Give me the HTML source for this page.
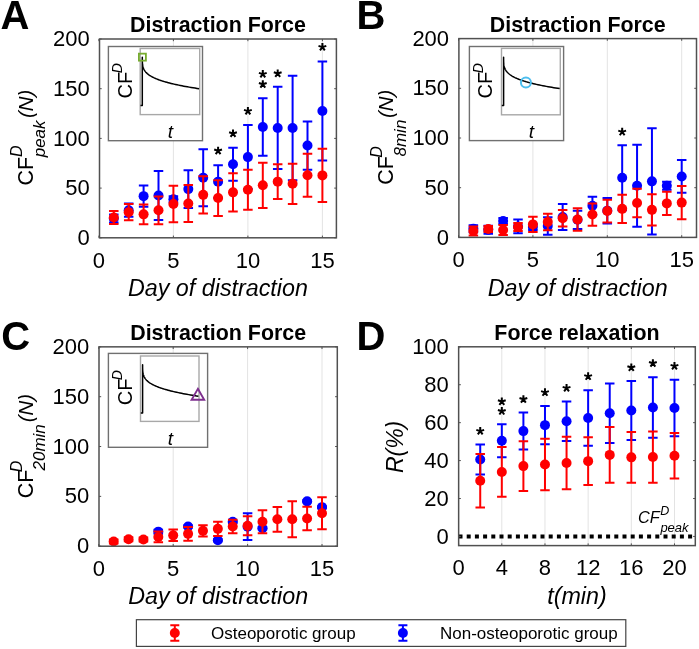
<!DOCTYPE html><html><head><meta charset="utf-8"><style>html,body{margin:0;padding:0;background:#fff;overflow:hidden}svg{display:block;will-change:transform}</style></head><body><svg width="699" height="649" viewBox="0 0 699 649" font-family='"Liberation Sans", sans-serif' fill="#000">
<rect width="699" height="649" fill="#fff"/>
<rect x="99.50" y="39.00" width="236.90" height="198.80" fill="#fff"/>
<line x1="173.40" y1="39.00" x2="173.40" y2="237.80" stroke="#e3e3e3" stroke-width="1"/>
<line x1="247.90" y1="39.00" x2="247.90" y2="237.80" stroke="#e3e3e3" stroke-width="1"/>
<line x1="322.40" y1="39.00" x2="322.40" y2="237.80" stroke="#e3e3e3" stroke-width="1"/>
<path d="M113.80 214.44V222.39M109.05 214.44H118.55M109.05 222.39H118.55" stroke="#0000ff" stroke-width="2.0" fill="none"/>
<path d="M128.70 203.61V216.73M123.95 203.61H133.45M123.95 216.73H133.45" stroke="#0000ff" stroke-width="2.0" fill="none"/>
<path d="M143.60 185.62V206.69M138.85 185.62H148.35M138.85 206.69H148.35" stroke="#0000ff" stroke-width="2.0" fill="none"/>
<path d="M158.50 171.00V219.91M153.75 171.00H163.25M153.75 219.91H163.25" stroke="#0000ff" stroke-width="2.0" fill="none"/>
<path d="M173.40 196.35V202.31M168.65 196.35H178.15M168.65 202.31H178.15" stroke="#0000ff" stroke-width="2.0" fill="none"/>
<path d="M188.30 170.21V207.98M183.55 170.21H193.05M183.55 207.98H193.05" stroke="#0000ff" stroke-width="2.0" fill="none"/>
<path d="M203.20 149.14V206.19M198.45 149.14H207.95M198.45 206.19H207.95" stroke="#0000ff" stroke-width="2.0" fill="none"/>
<path d="M218.10 165.24V198.04M213.35 165.24H222.85M213.35 198.04H222.85" stroke="#0000ff" stroke-width="2.0" fill="none"/>
<path d="M233.00 147.84V180.65M228.25 147.84H237.75M228.25 180.65H237.75" stroke="#0000ff" stroke-width="2.0" fill="none"/>
<path d="M247.90 125.08V189.09M243.15 125.08H252.65M243.15 189.09H252.65" stroke="#0000ff" stroke-width="2.0" fill="none"/>
<path d="M262.80 98.14V155.80M258.05 98.14H267.55M258.05 155.80H267.55" stroke="#0000ff" stroke-width="2.0" fill="none"/>
<path d="M277.70 86.81V169.11M272.95 86.81H282.45M272.95 169.11H282.45" stroke="#0000ff" stroke-width="2.0" fill="none"/>
<path d="M292.60 75.78V180.15M287.85 75.78H297.35M287.85 180.15H297.35" stroke="#0000ff" stroke-width="2.0" fill="none"/>
<path d="M307.50 121.40V169.71M302.75 121.40H312.25M302.75 169.71H312.25" stroke="#0000ff" stroke-width="2.0" fill="none"/>
<path d="M322.40 61.46V160.47M317.65 61.46H327.15M317.65 160.47H327.15" stroke="#0000ff" stroke-width="2.0" fill="none"/>
<circle cx="113.80" cy="218.42" r="5.0" fill="#0000ff"/>
<circle cx="128.70" cy="210.17" r="5.0" fill="#0000ff"/>
<circle cx="143.60" cy="196.15" r="5.0" fill="#0000ff"/>
<circle cx="158.50" cy="195.46" r="5.0" fill="#0000ff"/>
<circle cx="173.40" cy="199.33" r="5.0" fill="#0000ff"/>
<circle cx="188.30" cy="189.09" r="5.0" fill="#0000ff"/>
<circle cx="203.20" cy="177.66" r="5.0" fill="#0000ff"/>
<circle cx="218.10" cy="181.64" r="5.0" fill="#0000ff"/>
<circle cx="233.00" cy="164.24" r="5.0" fill="#0000ff"/>
<circle cx="247.90" cy="157.09" r="5.0" fill="#0000ff"/>
<circle cx="262.80" cy="126.97" r="5.0" fill="#0000ff"/>
<circle cx="277.70" cy="127.96" r="5.0" fill="#0000ff"/>
<circle cx="292.60" cy="127.96" r="5.0" fill="#0000ff"/>
<circle cx="307.50" cy="145.56" r="5.0" fill="#0000ff"/>
<circle cx="322.40" cy="110.97" r="5.0" fill="#0000ff"/>
<path d="M113.80 210.96V223.88M109.05 210.96H118.55M109.05 223.88H118.55" stroke="#ff0000" stroke-width="2.0" fill="none"/>
<path d="M128.70 204.00V220.31M123.95 204.00H133.45M123.95 220.31H133.45" stroke="#ff0000" stroke-width="2.0" fill="none"/>
<path d="M143.60 204.50V224.18M138.85 204.50H148.35M138.85 224.18H148.35" stroke="#ff0000" stroke-width="2.0" fill="none"/>
<path d="M158.50 196.40V224.23M153.75 196.40H163.25M153.75 224.23H163.25" stroke="#ff0000" stroke-width="2.0" fill="none"/>
<path d="M173.40 185.81V222.19M168.65 185.81H178.15M168.65 222.19H178.15" stroke="#ff0000" stroke-width="2.0" fill="none"/>
<path d="M188.30 185.12V222.09M183.55 185.12H193.05M183.55 222.09H193.05" stroke="#ff0000" stroke-width="2.0" fill="none"/>
<path d="M203.20 176.17V213.55M198.45 176.17H207.95M198.45 213.55H207.95" stroke="#ff0000" stroke-width="2.0" fill="none"/>
<path d="M218.10 180.15V215.93M213.35 180.15H222.85M213.35 215.93H222.85" stroke="#ff0000" stroke-width="2.0" fill="none"/>
<path d="M233.00 173.19V211.56M228.25 173.19H237.75M228.25 211.56H237.75" stroke="#ff0000" stroke-width="2.0" fill="none"/>
<path d="M247.90 169.71V209.87M243.15 169.71H252.65M243.15 209.87H252.65" stroke="#ff0000" stroke-width="2.0" fill="none"/>
<path d="M262.80 162.65V207.98M258.05 162.65H267.55M258.05 207.98H267.55" stroke="#ff0000" stroke-width="2.0" fill="none"/>
<path d="M277.70 164.24V199.03M272.95 164.24H282.45M272.95 199.03H282.45" stroke="#ff0000" stroke-width="2.0" fill="none"/>
<path d="M292.60 163.75V203.90M287.85 163.75H297.35M287.85 203.90H297.35" stroke="#ff0000" stroke-width="2.0" fill="none"/>
<path d="M307.50 153.71V196.65M302.75 153.71H312.25M302.75 196.65H312.25" stroke="#ff0000" stroke-width="2.0" fill="none"/>
<path d="M322.40 148.74V202.02M317.65 148.74H327.15M317.65 202.02H327.15" stroke="#ff0000" stroke-width="2.0" fill="none"/>
<circle cx="113.80" cy="217.42" r="5.0" fill="#ff0000"/>
<circle cx="128.70" cy="212.15" r="5.0" fill="#ff0000"/>
<circle cx="143.60" cy="214.34" r="5.0" fill="#ff0000"/>
<circle cx="158.50" cy="210.32" r="5.0" fill="#ff0000"/>
<circle cx="173.40" cy="204.00" r="5.0" fill="#ff0000"/>
<circle cx="188.30" cy="203.61" r="5.0" fill="#ff0000"/>
<circle cx="203.20" cy="194.86" r="5.0" fill="#ff0000"/>
<circle cx="218.10" cy="198.04" r="5.0" fill="#ff0000"/>
<circle cx="233.00" cy="192.37" r="5.0" fill="#ff0000"/>
<circle cx="247.90" cy="189.79" r="5.0" fill="#ff0000"/>
<circle cx="262.80" cy="185.32" r="5.0" fill="#ff0000"/>
<circle cx="277.70" cy="181.64" r="5.0" fill="#ff0000"/>
<circle cx="292.60" cy="183.83" r="5.0" fill="#ff0000"/>
<circle cx="307.50" cy="175.18" r="5.0" fill="#ff0000"/>
<circle cx="322.40" cy="175.38" r="5.0" fill="#ff0000"/>
<rect x="458.90" y="38.60" width="237.60" height="198.80" fill="#fff"/>
<line x1="532.90" y1="38.60" x2="532.90" y2="237.40" stroke="#e3e3e3" stroke-width="1"/>
<line x1="607.30" y1="38.60" x2="607.30" y2="237.40" stroke="#e3e3e3" stroke-width="1"/>
<line x1="681.70" y1="38.60" x2="681.70" y2="237.40" stroke="#e3e3e3" stroke-width="1"/>
<path d="M473.38 225.17V232.13M468.63 225.17H478.13M468.63 232.13H478.13" stroke="#0000ff" stroke-width="2.0" fill="none"/>
<path d="M488.26 225.87V233.82M483.51 225.87H493.01M483.51 233.82H493.01" stroke="#0000ff" stroke-width="2.0" fill="none"/>
<path d="M503.14 218.12V224.08M498.39 218.12H507.89M498.39 224.08H507.89" stroke="#0000ff" stroke-width="2.0" fill="none"/>
<path d="M518.02 219.61V233.32M513.27 219.61H522.77M513.27 233.32H522.77" stroke="#0000ff" stroke-width="2.0" fill="none"/>
<path d="M532.90 224.08V230.04M528.15 224.08H537.65M528.15 230.04H537.65" stroke="#0000ff" stroke-width="2.0" fill="none"/>
<path d="M547.78 217.32V234.82M543.03 217.32H552.53M543.03 234.82H552.53" stroke="#0000ff" stroke-width="2.0" fill="none"/>
<path d="M562.66 203.90V229.94M557.91 203.90H567.41M557.91 229.94H567.41" stroke="#0000ff" stroke-width="2.0" fill="none"/>
<path d="M577.54 210.66V228.95M572.79 210.66H582.29M572.79 228.95H582.29" stroke="#0000ff" stroke-width="2.0" fill="none"/>
<path d="M592.42 196.65V214.94M587.67 196.65H597.17M587.67 214.94H597.17" stroke="#0000ff" stroke-width="2.0" fill="none"/>
<path d="M607.30 197.94V223.38M602.55 197.94H612.05M602.55 223.38H612.05" stroke="#0000ff" stroke-width="2.0" fill="none"/>
<path d="M622.18 145.36V210.16M617.43 145.36H626.93M617.43 210.16H626.93" stroke="#0000ff" stroke-width="2.0" fill="none"/>
<path d="M637.06 144.76V226.66M632.31 144.76H641.81M632.31 226.66H641.81" stroke="#0000ff" stroke-width="2.0" fill="none"/>
<path d="M651.94 128.16V234.52M647.19 128.16H656.69M647.19 234.52H656.69" stroke="#0000ff" stroke-width="2.0" fill="none"/>
<path d="M666.82 181.74V189.69M662.07 181.74H671.57M662.07 189.69H671.57" stroke="#0000ff" stroke-width="2.0" fill="none"/>
<path d="M681.70 160.07V192.87M676.95 160.07H686.45M676.95 192.87H686.45" stroke="#0000ff" stroke-width="2.0" fill="none"/>
<circle cx="473.38" cy="228.65" r="5.0" fill="#0000ff"/>
<circle cx="488.26" cy="229.85" r="5.0" fill="#0000ff"/>
<circle cx="503.14" cy="221.10" r="5.0" fill="#0000ff"/>
<circle cx="518.02" cy="226.47" r="5.0" fill="#0000ff"/>
<circle cx="532.90" cy="227.06" r="5.0" fill="#0000ff"/>
<circle cx="547.78" cy="226.07" r="5.0" fill="#0000ff"/>
<circle cx="562.66" cy="216.92" r="5.0" fill="#0000ff"/>
<circle cx="577.54" cy="219.81" r="5.0" fill="#0000ff"/>
<circle cx="592.42" cy="205.79" r="5.0" fill="#0000ff"/>
<circle cx="607.30" cy="210.66" r="5.0" fill="#0000ff"/>
<circle cx="622.18" cy="177.76" r="5.0" fill="#0000ff"/>
<circle cx="637.06" cy="185.71" r="5.0" fill="#0000ff"/>
<circle cx="651.94" cy="181.34" r="5.0" fill="#0000ff"/>
<circle cx="666.82" cy="185.71" r="5.0" fill="#0000ff"/>
<circle cx="681.70" cy="176.47" r="5.0" fill="#0000ff"/>
<path d="M473.38 226.47V235.41M468.63 226.47H478.13M468.63 235.41H478.13" stroke="#ff0000" stroke-width="2.0" fill="none"/>
<path d="M488.26 226.07V232.03M483.51 226.07H493.01M483.51 232.03H493.01" stroke="#ff0000" stroke-width="2.0" fill="none"/>
<path d="M503.14 224.97V234.91M498.39 224.97H507.89M498.39 234.91H507.89" stroke="#ff0000" stroke-width="2.0" fill="none"/>
<path d="M518.02 223.09V231.04M513.27 223.09H522.77M513.27 231.04H522.77" stroke="#ff0000" stroke-width="2.0" fill="none"/>
<path d="M532.90 216.82V231.93M528.15 216.82H537.65M528.15 231.93H537.65" stroke="#ff0000" stroke-width="2.0" fill="none"/>
<path d="M547.78 213.64V230.14M543.03 213.64H552.53M543.03 230.14H552.53" stroke="#ff0000" stroke-width="2.0" fill="none"/>
<path d="M562.66 209.97V226.47M557.91 209.97H567.41M557.91 226.47H567.41" stroke="#ff0000" stroke-width="2.0" fill="none"/>
<path d="M577.54 208.33V230.69M572.79 208.33H582.29M572.79 230.69H582.29" stroke="#ff0000" stroke-width="2.0" fill="none"/>
<path d="M592.42 203.41V225.67M587.67 203.41H597.17M587.67 225.67H597.17" stroke="#ff0000" stroke-width="2.0" fill="none"/>
<path d="M607.30 199.63V222.49M602.55 199.63H612.05M602.55 222.49H612.05" stroke="#ff0000" stroke-width="2.0" fill="none"/>
<path d="M622.18 194.86V222.89M617.43 194.86H626.93M617.43 222.89H626.93" stroke="#ff0000" stroke-width="2.0" fill="none"/>
<path d="M637.06 188.69V217.32M632.31 188.69H641.81M632.31 217.32H641.81" stroke="#ff0000" stroke-width="2.0" fill="none"/>
<path d="M651.94 194.16V225.57M647.19 194.16H656.69M647.19 225.57H656.69" stroke="#ff0000" stroke-width="2.0" fill="none"/>
<path d="M666.82 191.87V214.94M662.07 191.87H671.57M662.07 214.94H671.57" stroke="#ff0000" stroke-width="2.0" fill="none"/>
<path d="M681.70 185.91V219.31M676.95 185.91H686.45M676.95 219.31H686.45" stroke="#ff0000" stroke-width="2.0" fill="none"/>
<circle cx="473.38" cy="230.94" r="5.0" fill="#ff0000"/>
<circle cx="488.26" cy="229.05" r="5.0" fill="#ff0000"/>
<circle cx="503.14" cy="229.94" r="5.0" fill="#ff0000"/>
<circle cx="518.02" cy="227.06" r="5.0" fill="#ff0000"/>
<circle cx="532.90" cy="224.38" r="5.0" fill="#ff0000"/>
<circle cx="547.78" cy="221.89" r="5.0" fill="#ff0000"/>
<circle cx="562.66" cy="218.22" r="5.0" fill="#ff0000"/>
<circle cx="577.54" cy="219.51" r="5.0" fill="#ff0000"/>
<circle cx="592.42" cy="214.54" r="5.0" fill="#ff0000"/>
<circle cx="607.30" cy="211.06" r="5.0" fill="#ff0000"/>
<circle cx="622.18" cy="208.87" r="5.0" fill="#ff0000"/>
<circle cx="637.06" cy="203.01" r="5.0" fill="#ff0000"/>
<circle cx="651.94" cy="209.87" r="5.0" fill="#ff0000"/>
<circle cx="666.82" cy="203.41" r="5.0" fill="#ff0000"/>
<circle cx="681.70" cy="202.61" r="5.0" fill="#ff0000"/>
<rect x="99.00" y="346.85" width="238.30" height="199.35" fill="#fff"/>
<line x1="173.20" y1="346.85" x2="173.20" y2="546.20" stroke="#e3e3e3" stroke-width="1"/>
<line x1="247.60" y1="346.85" x2="247.60" y2="546.20" stroke="#e3e3e3" stroke-width="1"/>
<line x1="322.00" y1="346.85" x2="322.00" y2="546.20" stroke="#e3e3e3" stroke-width="1"/>
<path d="M158.32 529.65V533.64M153.57 529.65H163.07M153.57 533.64H163.07" stroke="#0000ff" stroke-width="2.0" fill="none"/>
<path d="M188.08 525.47V527.46M183.33 525.47H192.83M183.33 527.46H192.83" stroke="#0000ff" stroke-width="2.0" fill="none"/>
<path d="M217.84 539.22V541.22M213.09 539.22H222.59M213.09 541.22H222.59" stroke="#0000ff" stroke-width="2.0" fill="none"/>
<path d="M232.72 520.68V522.68M227.97 520.68H237.47M227.97 522.68H237.47" stroke="#0000ff" stroke-width="2.0" fill="none"/>
<path d="M247.60 513.31V540.02M242.85 513.31H252.35M242.85 540.02H252.35" stroke="#0000ff" stroke-width="2.0" fill="none"/>
<path d="M262.48 527.26V529.26M257.73 527.26H267.23M257.73 529.26H267.23" stroke="#0000ff" stroke-width="2.0" fill="none"/>
<path d="M307.12 500.35V502.34M302.37 500.35H311.87M302.37 502.34H311.87" stroke="#0000ff" stroke-width="2.0" fill="none"/>
<path d="M322.00 506.13V508.12M317.25 506.13H326.75M317.25 508.12H326.75" stroke="#0000ff" stroke-width="2.0" fill="none"/>
<circle cx="158.32" cy="531.65" r="5.0" fill="#0000ff"/>
<circle cx="188.08" cy="526.46" r="5.0" fill="#0000ff"/>
<circle cx="217.84" cy="540.22" r="5.0" fill="#0000ff"/>
<circle cx="232.72" cy="521.68" r="5.0" fill="#0000ff"/>
<circle cx="247.60" cy="526.66" r="5.0" fill="#0000ff"/>
<circle cx="262.48" cy="528.26" r="5.0" fill="#0000ff"/>
<circle cx="307.12" cy="501.35" r="5.0" fill="#0000ff"/>
<circle cx="322.00" cy="507.13" r="5.0" fill="#0000ff"/>
<path d="M113.68 539.42V543.41M108.93 539.42H118.43M108.93 543.41H118.43" stroke="#ff0000" stroke-width="2.0" fill="none"/>
<path d="M128.56 537.23V541.22M123.81 537.23H133.31M123.81 541.22H133.31" stroke="#ff0000" stroke-width="2.0" fill="none"/>
<path d="M143.44 537.43V541.42M138.69 537.43H148.19M138.69 541.42H148.19" stroke="#ff0000" stroke-width="2.0" fill="none"/>
<path d="M158.32 531.55V542.31M153.57 531.55H163.07M153.57 542.31H163.07" stroke="#ff0000" stroke-width="2.0" fill="none"/>
<path d="M173.20 529.55V541.12M168.45 529.55H177.95M168.45 541.12H177.95" stroke="#ff0000" stroke-width="2.0" fill="none"/>
<path d="M188.08 526.96V540.72M183.33 526.96H192.83M183.33 540.72H192.83" stroke="#ff0000" stroke-width="2.0" fill="none"/>
<path d="M202.96 525.27V536.43M198.21 525.27H207.71M198.21 536.43H207.71" stroke="#ff0000" stroke-width="2.0" fill="none"/>
<path d="M217.84 521.68V536.03M213.09 521.68H222.59M213.09 536.03H222.59" stroke="#ff0000" stroke-width="2.0" fill="none"/>
<path d="M232.72 519.69V533.24M227.97 519.69H237.47M227.97 533.24H237.47" stroke="#ff0000" stroke-width="2.0" fill="none"/>
<path d="M247.60 516.30V535.24M242.85 516.30H252.35M242.85 535.24H252.35" stroke="#ff0000" stroke-width="2.0" fill="none"/>
<path d="M262.48 510.32V533.24M257.73 510.32H267.23M257.73 533.24H267.23" stroke="#ff0000" stroke-width="2.0" fill="none"/>
<path d="M277.36 506.93V531.65M272.61 506.93H282.11M272.61 531.65H282.11" stroke="#ff0000" stroke-width="2.0" fill="none"/>
<path d="M292.24 501.25V537.13M287.49 501.25H296.99M287.49 537.13H296.99" stroke="#ff0000" stroke-width="2.0" fill="none"/>
<path d="M307.12 506.63V530.35M302.37 506.63H311.87M302.37 530.35H311.87" stroke="#ff0000" stroke-width="2.0" fill="none"/>
<path d="M322.00 497.36V529.26M317.25 497.36H326.75M317.25 529.26H326.75" stroke="#ff0000" stroke-width="2.0" fill="none"/>
<circle cx="113.68" cy="541.42" r="5.0" fill="#ff0000"/>
<circle cx="128.56" cy="539.22" r="5.0" fill="#ff0000"/>
<circle cx="143.44" cy="539.42" r="5.0" fill="#ff0000"/>
<circle cx="158.32" cy="536.93" r="5.0" fill="#ff0000"/>
<circle cx="173.20" cy="535.34" r="5.0" fill="#ff0000"/>
<circle cx="188.08" cy="533.84" r="5.0" fill="#ff0000"/>
<circle cx="202.96" cy="530.85" r="5.0" fill="#ff0000"/>
<circle cx="217.84" cy="528.86" r="5.0" fill="#ff0000"/>
<circle cx="232.72" cy="526.46" r="5.0" fill="#ff0000"/>
<circle cx="247.60" cy="525.77" r="5.0" fill="#ff0000"/>
<circle cx="262.48" cy="521.78" r="5.0" fill="#ff0000"/>
<circle cx="277.36" cy="519.29" r="5.0" fill="#ff0000"/>
<circle cx="292.24" cy="519.19" r="5.0" fill="#ff0000"/>
<circle cx="307.12" cy="518.49" r="5.0" fill="#ff0000"/>
<circle cx="322.00" cy="513.31" r="5.0" fill="#ff0000"/>
<rect x="458.65" y="346.80" width="236.65" height="198.80" fill="#fff"/>
<line x1="501.81" y1="346.80" x2="501.81" y2="545.60" stroke="#e3e3e3" stroke-width="1"/>
<line x1="544.98" y1="346.80" x2="544.98" y2="545.60" stroke="#e3e3e3" stroke-width="1"/>
<line x1="588.14" y1="346.80" x2="588.14" y2="545.60" stroke="#e3e3e3" stroke-width="1"/>
<line x1="631.31" y1="346.80" x2="631.31" y2="545.60" stroke="#e3e3e3" stroke-width="1"/>
<line x1="674.47" y1="346.80" x2="674.47" y2="545.60" stroke="#e3e3e3" stroke-width="1"/>
<path d="M480.23 444.47V474.43M475.48 444.47H484.98M475.48 474.43H484.98" stroke="#0000ff" stroke-width="2.0" fill="none"/>
<path d="M501.81 424.37V457.18M497.06 424.37H506.56M497.06 457.18H506.56" stroke="#0000ff" stroke-width="2.0" fill="none"/>
<path d="M523.40 412.61V449.59M518.65 412.61H528.15M518.65 449.59H528.15" stroke="#0000ff" stroke-width="2.0" fill="none"/>
<path d="M544.98 405.97V444.28M540.23 405.97H549.73M540.23 444.28H549.73" stroke="#0000ff" stroke-width="2.0" fill="none"/>
<path d="M566.56 401.42V441.06M561.81 401.42H571.31M561.81 441.06H571.31" stroke="#0000ff" stroke-width="2.0" fill="none"/>
<path d="M588.14 390.23V445.80M583.39 390.23H592.89M583.39 445.80H592.89" stroke="#0000ff" stroke-width="2.0" fill="none"/>
<path d="M609.73 383.40V442.95M604.98 383.40H614.48M604.98 442.95H614.48" stroke="#0000ff" stroke-width="2.0" fill="none"/>
<path d="M631.31 380.94V440.11M626.56 380.94H636.06M626.56 440.11H636.06" stroke="#0000ff" stroke-width="2.0" fill="none"/>
<path d="M652.89 377.14V437.83M648.14 377.14H657.64M648.14 437.83H657.64" stroke="#0000ff" stroke-width="2.0" fill="none"/>
<path d="M674.47 379.80V436.13M669.72 379.80H679.22M669.72 436.13H679.22" stroke="#0000ff" stroke-width="2.0" fill="none"/>
<circle cx="480.23" cy="459.45" r="5.0" fill="#0000ff"/>
<circle cx="501.81" cy="440.77" r="5.0" fill="#0000ff"/>
<circle cx="523.40" cy="431.10" r="5.0" fill="#0000ff"/>
<circle cx="544.98" cy="425.13" r="5.0" fill="#0000ff"/>
<circle cx="566.56" cy="421.24" r="5.0" fill="#0000ff"/>
<circle cx="588.14" cy="418.01" r="5.0" fill="#0000ff"/>
<circle cx="609.73" cy="413.18" r="5.0" fill="#0000ff"/>
<circle cx="631.31" cy="410.52" r="5.0" fill="#0000ff"/>
<circle cx="652.89" cy="407.49" r="5.0" fill="#0000ff"/>
<circle cx="674.47" cy="407.96" r="5.0" fill="#0000ff"/>
<path d="M480.23 453.95V507.62M475.48 453.95H484.98M475.48 507.62H484.98" stroke="#ff0000" stroke-width="2.0" fill="none"/>
<path d="M501.81 447.12V496.81M497.06 447.12H506.56M497.06 496.81H506.56" stroke="#ff0000" stroke-width="2.0" fill="none"/>
<path d="M523.40 441.25V490.93M518.65 441.25H528.15M518.65 490.93H528.15" stroke="#ff0000" stroke-width="2.0" fill="none"/>
<path d="M544.98 438.78V490.37M540.23 438.78H549.73M540.23 490.37H549.73" stroke="#ff0000" stroke-width="2.0" fill="none"/>
<path d="M566.56 436.69V489.23M561.81 436.69H571.31M561.81 489.23H571.31" stroke="#ff0000" stroke-width="2.0" fill="none"/>
<path d="M588.14 437.26V485.05M583.39 437.26H592.89M583.39 485.05H592.89" stroke="#ff0000" stroke-width="2.0" fill="none"/>
<path d="M609.73 426.93V482.87M604.98 426.93H614.48M604.98 482.87H614.48" stroke="#ff0000" stroke-width="2.0" fill="none"/>
<path d="M631.31 431.95V482.78M626.56 431.95H636.06M626.56 482.78H636.06" stroke="#ff0000" stroke-width="2.0" fill="none"/>
<path d="M652.89 431.38V482.78M648.14 431.38H657.64M648.14 482.78H657.64" stroke="#ff0000" stroke-width="2.0" fill="none"/>
<path d="M674.47 433.09V478.42M669.72 433.09H679.22M669.72 478.42H679.22" stroke="#ff0000" stroke-width="2.0" fill="none"/>
<circle cx="480.23" cy="480.79" r="5.0" fill="#ff0000"/>
<circle cx="501.81" cy="471.97" r="5.0" fill="#ff0000"/>
<circle cx="523.40" cy="466.09" r="5.0" fill="#ff0000"/>
<circle cx="544.98" cy="464.57" r="5.0" fill="#ff0000"/>
<circle cx="566.56" cy="462.96" r="5.0" fill="#ff0000"/>
<circle cx="588.14" cy="461.16" r="5.0" fill="#ff0000"/>
<circle cx="609.73" cy="454.90" r="5.0" fill="#ff0000"/>
<circle cx="631.31" cy="457.37" r="5.0" fill="#ff0000"/>
<circle cx="652.89" cy="457.08" r="5.0" fill="#ff0000"/>
<circle cx="674.47" cy="455.75" r="5.0" fill="#ff0000"/>
<line x1="458.5" y1="536.5" x2="695" y2="536.5" stroke="#000" stroke-width="4" stroke-dasharray="4 4.2"/>
<text x="638" y="523.4" font-size="16.3" font-style="italic">CF</text>
<text x="660.3" y="514.9" font-size="12.5" font-style="italic">D</text>
<text x="660.4" y="531.6" font-size="13" font-style="italic">peak</text>
<rect x="108.40" y="46.50" width="94.10" height="94.20" fill="#fff" stroke="#707070" stroke-width="1.4"/>
<rect x="140.20" y="48.50" width="59.50" height="66.10" fill="#fff" stroke="#a8a8a8" stroke-width="1.4"/>
<path d="M140.50 105.50 L142.30 105.50 L142.30 57.30 L142.31 60.06 L142.33 61.46 L142.38 62.60 L142.45 63.59 L142.54 64.48 L142.66 65.30 L142.80 66.06 L142.97 66.79 L143.17 67.47 L143.40 68.13 L143.66 68.76 L143.95 69.37 L144.26 69.96 L144.61 70.53 L144.99 71.08 L145.40 71.62 L145.84 72.15 L146.32 72.66 L146.83 73.16 L147.37 73.65 L147.94 74.13 L148.55 74.60 L149.19 75.07 L149.87 75.52 L150.58 75.97 L151.32 76.41 L152.10 76.84 L152.92 77.27 L153.77 77.69 L154.66 78.10 L155.59 78.51 L156.55 78.92 L157.55 79.31 L158.58 79.71 L159.65 80.10 L160.76 80.48 L161.91 80.86 L163.09 81.24 L164.32 81.61 L165.58 81.98 L166.88 82.34 L168.22 82.70 L169.59 83.06 L171.01 83.42 L172.46 83.77 L173.96 84.12 L175.49 84.46 L177.07 84.80 L178.68 85.14 L180.33 85.48 L182.03 85.81 L183.76 86.14 L185.53 86.47 L187.35 86.80 L189.20 87.12 L191.10 87.44 L193.04 87.76 L195.02 88.07 L197.04 88.39 L199.10 88.70" stroke="#000" stroke-width="1.5" fill="none" stroke-linejoin="round"/>
<rect x="138.90" y="53.65" width="7" height="7" fill="none" stroke="#77ac30" stroke-width="1.8"/>
<text transform="translate(131.60 98.40) rotate(-90)" font-size="20">CF</text>
<text transform="translate(121.90 73.30) rotate(-90)" font-size="14" font-style="italic">D</text>
<text x="170.50" y="138.30" font-size="19" font-style="italic" text-anchor="middle">t</text>
<rect x="469.40" y="46.50" width="94.20" height="94.10" fill="#fff" stroke="#707070" stroke-width="1.4"/>
<rect x="501.50" y="48.40" width="58.80" height="66.40" fill="#fff" stroke="#a8a8a8" stroke-width="1.4"/>
<path d="M501.80 105.40 L503.60 105.40 L503.60 57.20 L503.61 59.96 L503.63 61.36 L503.68 62.50 L503.75 63.49 L503.84 64.38 L503.95 65.20 L504.10 65.96 L504.27 66.69 L504.46 67.37 L504.69 68.03 L504.94 68.66 L505.23 69.27 L505.54 69.86 L505.88 70.43 L506.26 70.98 L506.66 71.52 L507.10 72.05 L507.57 72.56 L508.07 73.06 L508.60 73.55 L509.17 74.03 L509.77 74.50 L510.41 74.97 L511.07 75.42 L511.78 75.87 L512.51 76.31 L513.28 76.74 L514.09 77.17 L514.93 77.59 L515.81 78.00 L516.72 78.41 L517.67 78.82 L518.66 79.21 L519.68 79.61 L520.74 80.00 L521.83 80.38 L522.97 80.76 L524.14 81.14 L525.35 81.51 L526.59 81.88 L527.87 82.24 L529.20 82.60 L530.56 82.96 L531.95 83.32 L533.39 83.67 L534.87 84.02 L536.38 84.36 L537.94 84.70 L539.53 85.04 L541.16 85.38 L542.84 85.71 L544.55 86.04 L546.30 86.37 L548.09 86.70 L549.93 87.02 L551.80 87.34 L553.71 87.66 L555.67 87.97 L557.66 88.29 L559.70 88.60" stroke="#000" stroke-width="1.5" fill="none" stroke-linejoin="round"/>
<circle cx="525.90" cy="82.60" r="5.0" fill="none" stroke="#4dbeee" stroke-width="2"/>
<text transform="translate(492.40 98.40) rotate(-90)" font-size="20">CF</text>
<text transform="translate(482.60 73.30) rotate(-90)" font-size="14" font-style="italic">D</text>
<text x="531.30" y="138.30" font-size="19" font-style="italic" text-anchor="middle">t</text>
<rect x="108.40" y="353.40" width="99.20" height="93.90" fill="#fff" stroke="#707070" stroke-width="1.4"/>
<rect x="140.50" y="356.00" width="58.50" height="65.40" fill="#fff" stroke="#a8a8a8" stroke-width="1.4"/>
<path d="M140.80 413.00 L142.60 413.00 L142.60 364.80 L142.61 367.56 L142.63 368.96 L142.68 370.10 L142.74 371.09 L142.84 371.98 L142.95 372.80 L143.09 373.56 L143.26 374.29 L143.46 374.97 L143.68 375.63 L143.94 376.26 L144.22 376.87 L144.53 377.46 L144.87 378.03 L145.24 378.58 L145.65 379.12 L146.08 379.65 L146.55 380.16 L147.05 380.66 L147.58 381.15 L148.14 381.63 L148.74 382.10 L149.37 382.57 L150.03 383.02 L150.73 383.47 L151.46 383.91 L152.23 384.34 L153.03 384.77 L153.87 385.19 L154.74 385.60 L155.65 386.01 L156.60 386.42 L157.58 386.81 L158.59 387.21 L159.65 387.60 L160.74 387.98 L161.86 388.36 L163.03 388.74 L164.23 389.11 L165.47 389.48 L166.74 389.84 L168.06 390.20 L169.41 390.56 L170.80 390.92 L172.23 391.27 L173.70 391.62 L175.21 391.96 L176.75 392.30 L178.34 392.64 L179.96 392.98 L181.63 393.31 L183.33 393.64 L185.07 393.97 L186.86 394.30 L188.68 394.62 L190.54 394.94 L192.45 395.26 L194.39 395.57 L196.37 395.89 L198.40 396.20" stroke="#000" stroke-width="1.5" fill="none" stroke-linejoin="round"/>
<path d="M197.90 388.80 L204.20 399.80 L191.60 399.80 Z" fill="none" stroke="#7e2f8e" stroke-width="1.9" stroke-linejoin="miter"/>
<text transform="translate(131.60 405.30) rotate(-90)" font-size="20">CF</text>
<text transform="translate(121.90 380.20) rotate(-90)" font-size="14" font-style="italic">D</text>
<text x="170.50" y="444.80" font-size="19" font-style="italic" text-anchor="middle">t</text>
<line x1="98.90" y1="237.80" x2="98.90" y2="235.60" stroke="#505050" stroke-width="1"/>
<line x1="98.90" y1="39.00" x2="98.90" y2="41.20" stroke="#505050" stroke-width="1"/>
<line x1="173.40" y1="237.80" x2="173.40" y2="235.60" stroke="#505050" stroke-width="1"/>
<line x1="173.40" y1="39.00" x2="173.40" y2="41.20" stroke="#505050" stroke-width="1"/>
<line x1="247.90" y1="237.80" x2="247.90" y2="235.60" stroke="#505050" stroke-width="1"/>
<line x1="247.90" y1="39.00" x2="247.90" y2="41.20" stroke="#505050" stroke-width="1"/>
<line x1="322.40" y1="237.80" x2="322.40" y2="235.60" stroke="#505050" stroke-width="1"/>
<line x1="322.40" y1="39.00" x2="322.40" y2="41.20" stroke="#505050" stroke-width="1"/>
<line x1="99.50" y1="237.80" x2="101.70" y2="237.80" stroke="#505050" stroke-width="1"/>
<line x1="336.40" y1="237.80" x2="334.20" y2="237.80" stroke="#505050" stroke-width="1"/>
<line x1="99.50" y1="188.10" x2="101.70" y2="188.10" stroke="#505050" stroke-width="1"/>
<line x1="336.40" y1="188.10" x2="334.20" y2="188.10" stroke="#505050" stroke-width="1"/>
<line x1="99.50" y1="138.40" x2="101.70" y2="138.40" stroke="#505050" stroke-width="1"/>
<line x1="336.40" y1="138.40" x2="334.20" y2="138.40" stroke="#505050" stroke-width="1"/>
<line x1="99.50" y1="88.70" x2="101.70" y2="88.70" stroke="#505050" stroke-width="1"/>
<line x1="336.40" y1="88.70" x2="334.20" y2="88.70" stroke="#505050" stroke-width="1"/>
<line x1="99.50" y1="39.00" x2="101.70" y2="39.00" stroke="#505050" stroke-width="1"/>
<line x1="336.40" y1="39.00" x2="334.20" y2="39.00" stroke="#505050" stroke-width="1"/>
<rect x="99.50" y="39.00" width="236.90" height="198.80" fill="none" stroke="#505050" stroke-width="1.5"/>
<text x="98.90" y="267.60" font-size="22" text-anchor="middle">0</text>
<text x="173.40" y="267.60" font-size="22" text-anchor="middle">5</text>
<text x="247.90" y="267.60" font-size="22" text-anchor="middle">10</text>
<text x="322.40" y="267.60" font-size="22" text-anchor="middle">15</text>
<text x="89.70" y="244.90" font-size="22" text-anchor="end">0</text>
<text x="89.70" y="195.20" font-size="22" text-anchor="end">50</text>
<text x="89.70" y="145.50" font-size="22" text-anchor="end">100</text>
<text x="89.70" y="95.80" font-size="22" text-anchor="end">150</text>
<text x="89.70" y="46.10" font-size="22" text-anchor="end">200</text>
<line x1="458.50" y1="237.40" x2="458.50" y2="235.20" stroke="#505050" stroke-width="1"/>
<line x1="458.50" y1="38.60" x2="458.50" y2="40.80" stroke="#505050" stroke-width="1"/>
<line x1="532.90" y1="237.40" x2="532.90" y2="235.20" stroke="#505050" stroke-width="1"/>
<line x1="532.90" y1="38.60" x2="532.90" y2="40.80" stroke="#505050" stroke-width="1"/>
<line x1="607.30" y1="237.40" x2="607.30" y2="235.20" stroke="#505050" stroke-width="1"/>
<line x1="607.30" y1="38.60" x2="607.30" y2="40.80" stroke="#505050" stroke-width="1"/>
<line x1="681.70" y1="237.40" x2="681.70" y2="235.20" stroke="#505050" stroke-width="1"/>
<line x1="681.70" y1="38.60" x2="681.70" y2="40.80" stroke="#505050" stroke-width="1"/>
<line x1="458.90" y1="237.40" x2="461.10" y2="237.40" stroke="#505050" stroke-width="1"/>
<line x1="696.50" y1="237.40" x2="694.30" y2="237.40" stroke="#505050" stroke-width="1"/>
<line x1="458.90" y1="187.70" x2="461.10" y2="187.70" stroke="#505050" stroke-width="1"/>
<line x1="696.50" y1="187.70" x2="694.30" y2="187.70" stroke="#505050" stroke-width="1"/>
<line x1="458.90" y1="138.00" x2="461.10" y2="138.00" stroke="#505050" stroke-width="1"/>
<line x1="696.50" y1="138.00" x2="694.30" y2="138.00" stroke="#505050" stroke-width="1"/>
<line x1="458.90" y1="88.30" x2="461.10" y2="88.30" stroke="#505050" stroke-width="1"/>
<line x1="696.50" y1="88.30" x2="694.30" y2="88.30" stroke="#505050" stroke-width="1"/>
<line x1="458.90" y1="38.60" x2="461.10" y2="38.60" stroke="#505050" stroke-width="1"/>
<line x1="696.50" y1="38.60" x2="694.30" y2="38.60" stroke="#505050" stroke-width="1"/>
<rect x="458.90" y="38.60" width="237.60" height="198.80" fill="none" stroke="#505050" stroke-width="1.5"/>
<text x="458.50" y="267.20" font-size="22" text-anchor="middle">0</text>
<text x="532.90" y="267.20" font-size="22" text-anchor="middle">5</text>
<text x="607.30" y="267.20" font-size="22" text-anchor="middle">10</text>
<text x="681.70" y="267.20" font-size="22" text-anchor="middle">15</text>
<text x="449.10" y="244.50" font-size="22" text-anchor="end">0</text>
<text x="449.10" y="194.80" font-size="22" text-anchor="end">50</text>
<text x="449.10" y="145.10" font-size="22" text-anchor="end">100</text>
<text x="449.10" y="95.40" font-size="22" text-anchor="end">150</text>
<text x="449.10" y="45.70" font-size="22" text-anchor="end">200</text>
<line x1="98.80" y1="546.20" x2="98.80" y2="544.00" stroke="#505050" stroke-width="1"/>
<line x1="98.80" y1="346.85" x2="98.80" y2="349.05" stroke="#505050" stroke-width="1"/>
<line x1="173.20" y1="546.20" x2="173.20" y2="544.00" stroke="#505050" stroke-width="1"/>
<line x1="173.20" y1="346.85" x2="173.20" y2="349.05" stroke="#505050" stroke-width="1"/>
<line x1="247.60" y1="546.20" x2="247.60" y2="544.00" stroke="#505050" stroke-width="1"/>
<line x1="247.60" y1="346.85" x2="247.60" y2="349.05" stroke="#505050" stroke-width="1"/>
<line x1="322.00" y1="546.20" x2="322.00" y2="544.00" stroke="#505050" stroke-width="1"/>
<line x1="322.00" y1="346.85" x2="322.00" y2="349.05" stroke="#505050" stroke-width="1"/>
<line x1="99.00" y1="546.20" x2="101.20" y2="546.20" stroke="#505050" stroke-width="1"/>
<line x1="337.30" y1="546.20" x2="335.10" y2="546.20" stroke="#505050" stroke-width="1"/>
<line x1="99.00" y1="496.36" x2="101.20" y2="496.36" stroke="#505050" stroke-width="1"/>
<line x1="337.30" y1="496.36" x2="335.10" y2="496.36" stroke="#505050" stroke-width="1"/>
<line x1="99.00" y1="446.53" x2="101.20" y2="446.53" stroke="#505050" stroke-width="1"/>
<line x1="337.30" y1="446.53" x2="335.10" y2="446.53" stroke="#505050" stroke-width="1"/>
<line x1="99.00" y1="396.69" x2="101.20" y2="396.69" stroke="#505050" stroke-width="1"/>
<line x1="337.30" y1="396.69" x2="335.10" y2="396.69" stroke="#505050" stroke-width="1"/>
<line x1="99.00" y1="346.85" x2="101.20" y2="346.85" stroke="#505050" stroke-width="1"/>
<line x1="337.30" y1="346.85" x2="335.10" y2="346.85" stroke="#505050" stroke-width="1"/>
<rect x="99.00" y="346.85" width="238.30" height="199.35" fill="none" stroke="#505050" stroke-width="1.5"/>
<text x="98.80" y="576.00" font-size="22" text-anchor="middle">0</text>
<text x="173.20" y="576.00" font-size="22" text-anchor="middle">5</text>
<text x="247.60" y="576.00" font-size="22" text-anchor="middle">10</text>
<text x="322.00" y="576.00" font-size="22" text-anchor="middle">15</text>
<text x="89.20" y="553.30" font-size="22" text-anchor="end">0</text>
<text x="89.20" y="503.46" font-size="22" text-anchor="end">50</text>
<text x="89.20" y="453.63" font-size="22" text-anchor="end">100</text>
<text x="89.20" y="403.79" font-size="22" text-anchor="end">150</text>
<text x="89.20" y="353.95" font-size="22" text-anchor="end">200</text>
<line x1="458.65" y1="545.60" x2="458.65" y2="543.40" stroke="#505050" stroke-width="1"/>
<line x1="458.65" y1="346.80" x2="458.65" y2="349.00" stroke="#505050" stroke-width="1"/>
<line x1="501.81" y1="545.60" x2="501.81" y2="543.40" stroke="#505050" stroke-width="1"/>
<line x1="501.81" y1="346.80" x2="501.81" y2="349.00" stroke="#505050" stroke-width="1"/>
<line x1="544.98" y1="545.60" x2="544.98" y2="543.40" stroke="#505050" stroke-width="1"/>
<line x1="544.98" y1="346.80" x2="544.98" y2="349.00" stroke="#505050" stroke-width="1"/>
<line x1="588.14" y1="545.60" x2="588.14" y2="543.40" stroke="#505050" stroke-width="1"/>
<line x1="588.14" y1="346.80" x2="588.14" y2="349.00" stroke="#505050" stroke-width="1"/>
<line x1="631.31" y1="545.60" x2="631.31" y2="543.40" stroke="#505050" stroke-width="1"/>
<line x1="631.31" y1="346.80" x2="631.31" y2="349.00" stroke="#505050" stroke-width="1"/>
<line x1="674.47" y1="545.60" x2="674.47" y2="543.40" stroke="#505050" stroke-width="1"/>
<line x1="674.47" y1="346.80" x2="674.47" y2="349.00" stroke="#505050" stroke-width="1"/>
<line x1="458.65" y1="536.45" x2="460.85" y2="536.45" stroke="#505050" stroke-width="1"/>
<line x1="695.30" y1="536.45" x2="693.10" y2="536.45" stroke="#505050" stroke-width="1"/>
<line x1="458.65" y1="498.52" x2="460.85" y2="498.52" stroke="#505050" stroke-width="1"/>
<line x1="695.30" y1="498.52" x2="693.10" y2="498.52" stroke="#505050" stroke-width="1"/>
<line x1="458.65" y1="460.59" x2="460.85" y2="460.59" stroke="#505050" stroke-width="1"/>
<line x1="695.30" y1="460.59" x2="693.10" y2="460.59" stroke="#505050" stroke-width="1"/>
<line x1="458.65" y1="422.66" x2="460.85" y2="422.66" stroke="#505050" stroke-width="1"/>
<line x1="695.30" y1="422.66" x2="693.10" y2="422.66" stroke="#505050" stroke-width="1"/>
<line x1="458.65" y1="384.73" x2="460.85" y2="384.73" stroke="#505050" stroke-width="1"/>
<line x1="695.30" y1="384.73" x2="693.10" y2="384.73" stroke="#505050" stroke-width="1"/>
<line x1="458.65" y1="346.80" x2="460.85" y2="346.80" stroke="#505050" stroke-width="1"/>
<line x1="695.30" y1="346.80" x2="693.10" y2="346.80" stroke="#505050" stroke-width="1"/>
<rect x="458.65" y="346.80" width="236.65" height="198.80" fill="none" stroke="#505050" stroke-width="1.5"/>
<text x="458.65" y="575.40" font-size="22" text-anchor="middle">0</text>
<text x="501.81" y="575.40" font-size="22" text-anchor="middle">4</text>
<text x="544.98" y="575.40" font-size="22" text-anchor="middle">8</text>
<text x="588.14" y="575.40" font-size="22" text-anchor="middle">12</text>
<text x="631.31" y="575.40" font-size="22" text-anchor="middle">16</text>
<text x="674.47" y="575.40" font-size="22" text-anchor="middle">20</text>
<text x="448.85" y="543.55" font-size="22" text-anchor="end">0</text>
<text x="448.85" y="505.62" font-size="22" text-anchor="end">20</text>
<text x="448.85" y="467.69" font-size="22" text-anchor="end">40</text>
<text x="448.85" y="429.76" font-size="22" text-anchor="end">60</text>
<text x="448.85" y="391.83" font-size="22" text-anchor="end">80</text>
<text x="448.85" y="353.90" font-size="22" text-anchor="end">100</text>
<path d="M218.10 150.81L218.10 146.71M218.10 150.81L222.00 149.54M218.10 150.81L220.51 154.13M218.10 150.81L215.69 154.13M218.10 150.81L214.20 149.54" stroke="#000" stroke-width="2.0" fill="none"/>
<path d="M233.00 133.51L233.00 129.41M233.00 133.51L236.90 132.24M233.00 133.51L235.41 136.83M233.00 133.51L230.59 136.83M233.00 133.51L229.10 132.24" stroke="#000" stroke-width="2.0" fill="none"/>
<path d="M247.90 111.11L247.90 107.01M247.90 111.11L251.80 109.84M247.90 111.11L250.31 114.43M247.90 111.11L245.49 114.43M247.90 111.11L244.00 109.84" stroke="#000" stroke-width="2.0" fill="none"/>
<path d="M262.80 74.11L262.80 70.01M262.80 74.11L266.70 72.84M262.80 74.11L265.21 77.43M262.80 74.11L260.39 77.43M262.80 74.11L258.90 72.84" stroke="#000" stroke-width="2.0" fill="none"/>
<path d="M262.80 84.31L262.80 80.21M262.80 84.31L266.70 83.04M262.80 84.31L265.21 87.63M262.80 84.31L260.39 87.63M262.80 84.31L258.90 83.04" stroke="#000" stroke-width="2.0" fill="none"/>
<path d="M277.70 73.51L277.70 69.41M277.70 73.51L281.60 72.24M277.70 73.51L280.11 76.83M277.70 73.51L275.29 76.83M277.70 73.51L273.80 72.24" stroke="#000" stroke-width="2.0" fill="none"/>
<path d="M322.40 47.11L322.40 43.01M322.40 47.11L326.30 45.84M322.40 47.11L324.81 50.43M322.40 47.11L319.99 50.43M322.40 47.11L318.50 45.84" stroke="#000" stroke-width="2.0" fill="none"/>
<path d="M622.18 131.91L622.18 127.81M622.18 131.91L626.08 130.64M622.18 131.91L624.59 135.23M622.18 131.91L619.77 135.23M622.18 131.91L618.28 130.64" stroke="#000" stroke-width="2.0" fill="none"/>
<path d="M480.23 431.11L480.23 427.01M480.23 431.11L484.13 429.84M480.23 431.11L482.64 434.43M480.23 431.11L477.82 434.43M480.23 431.11L476.33 429.84" stroke="#000" stroke-width="2.0" fill="none"/>
<path d="M501.81 401.51L501.81 397.41M501.81 401.51L505.71 400.24M501.81 401.51L504.22 404.83M501.81 401.51L499.40 404.83M501.81 401.51L497.92 400.24" stroke="#000" stroke-width="2.0" fill="none"/>
<path d="M501.81 411.21L501.81 407.11M501.81 411.21L505.71 409.94M501.81 411.21L504.22 414.53M501.81 411.21L499.40 414.53M501.81 411.21L497.92 409.94" stroke="#000" stroke-width="2.0" fill="none"/>
<path d="M523.40 399.31L523.40 395.21M523.40 399.31L527.30 398.04M523.40 399.31L525.81 402.63M523.40 399.31L520.99 402.63M523.40 399.31L519.50 398.04" stroke="#000" stroke-width="2.0" fill="none"/>
<path d="M544.98 392.41L544.98 388.31M544.98 392.41L548.88 391.14M544.98 392.41L547.39 395.73M544.98 392.41L542.57 395.73M544.98 392.41L541.08 391.14" stroke="#000" stroke-width="2.0" fill="none"/>
<path d="M566.56 388.11L566.56 384.01M566.56 388.11L570.46 386.84M566.56 388.11L568.97 391.43M566.56 388.11L564.15 391.43M566.56 388.11L562.66 386.84" stroke="#000" stroke-width="2.0" fill="none"/>
<path d="M588.14 376.41L588.14 372.31M588.14 376.41L592.04 375.14M588.14 376.41L590.55 379.73M588.14 376.41L585.73 379.73M588.14 376.41L584.24 375.14" stroke="#000" stroke-width="2.0" fill="none"/>
<path d="M631.31 367.51L631.31 363.41M631.31 367.51L635.21 366.24M631.31 367.51L633.72 370.83M631.31 367.51L628.90 370.83M631.31 367.51L627.41 366.24" stroke="#000" stroke-width="2.0" fill="none"/>
<path d="M652.89 363.31L652.89 359.21M652.89 363.31L656.79 362.04M652.89 363.31L655.30 366.63M652.89 363.31L650.48 366.63M652.89 363.31L648.99 362.04" stroke="#000" stroke-width="2.0" fill="none"/>
<path d="M674.47 366.11L674.47 362.01M674.47 366.11L678.37 364.84M674.47 366.11L676.88 369.43M674.47 366.11L672.06 369.43M674.47 366.11L670.57 364.84" stroke="#000" stroke-width="2.0" fill="none"/>
<text x="217.95" y="32.20" font-size="21.4" font-weight="bold" text-anchor="middle">Distraction Force</text>
<text x="577.70" y="31.80" font-size="21.4" font-weight="bold" text-anchor="middle">Distraction Force</text>
<text x="218.15" y="340.05" font-size="21.4" font-weight="bold" text-anchor="middle">Distraction Force</text>
<text x="576.97" y="340.00" font-size="21.4" font-weight="bold" text-anchor="middle">Force relaxation</text>
<text x="217.95" y="296.00" font-size="23.3" font-style="italic" text-anchor="middle">Day of distraction</text>
<text x="577.70" y="295.60" font-size="23.3" font-style="italic" text-anchor="middle">Day of distraction</text>
<text x="218.15" y="604.40" font-size="23.3" font-style="italic" text-anchor="middle">Day of distraction</text>
<text x="576.97" y="603.80" font-size="23.3" font-style="italic" text-anchor="middle">t(min)</text>
<text transform="translate(33.40 185.60) rotate(-90)" font-size="21.5">CF</text>
<text transform="translate(22.30 157.00) rotate(-90)" font-size="16" font-style="italic">D</text>
<text transform="translate(44.80 157.30) rotate(-90)" font-size="17" font-style="italic">peak</text>
<text transform="translate(33.20 118.00) rotate(-90)" font-size="20.3" font-style="italic">(N)</text>
<text transform="translate(393.20 184.70) rotate(-90)" font-size="21.5">CF</text>
<text transform="translate(382.00 157.80) rotate(-90)" font-size="16" font-style="italic">D</text>
<text transform="translate(405.50 156.50) rotate(-90)" font-size="17" font-style="italic">8min</text>
<text transform="translate(393.00 118.00) rotate(-90)" font-size="20.3" font-style="italic">(N)</text>
<text transform="translate(33.30 498.30) rotate(-90)" font-size="21.5">CF</text>
<text transform="translate(21.70 472.30) rotate(-90)" font-size="16" font-style="italic">D</text>
<text transform="translate(44.70 470.50) rotate(-90)" font-size="17" font-style="italic">20min</text>
<text transform="translate(33.20 422.20) rotate(-90)" font-size="20.3" font-style="italic">(N)</text>
<text transform="translate(403.20 473.10) rotate(-90)" font-size="23" font-style="italic">R(%)</text>
<text x="0.6" y="29.2" font-size="40" font-weight="bold">A</text>
<text x="356.4" y="29.2" font-size="40" font-weight="bold">B</text>
<text x="1.3" y="349.9" font-size="40" font-weight="bold">C</text>
<text x="356.4" y="349.9" font-size="40" font-weight="bold">D</text>
<rect x="136.4" y="619.7" width="489.4" height="26.7" fill="#fff" stroke="#444" stroke-width="1.2"/>
<path d="M174.80 625.20V640.80M170.30 625.20H179.30M170.30 640.80H179.30" stroke="#ff0000" stroke-width="2" fill="none"/>
<circle cx="174.80" cy="633.00" r="5" fill="#ff0000"/>
<path d="M402.90 625.20V640.80M398.40 625.20H407.40M398.40 640.80H407.40" stroke="#0000ff" stroke-width="2" fill="none"/>
<circle cx="402.90" cy="633.00" r="5" fill="#0000ff"/>
<text x="211" y="639" font-size="17">Osteoporotic group</text>
<text x="440" y="639" font-size="17">Non-osteoporotic group</text>
</svg></body></html>
